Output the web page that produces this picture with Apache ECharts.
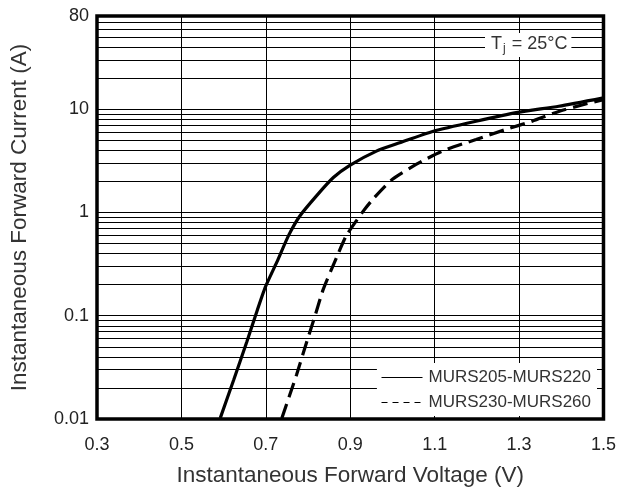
<!DOCTYPE html>
<html>
<head>
<meta charset="utf-8">
<script src="https://cdn.jsdelivr.net/npm/echarts@6/dist/echarts.min.js"></script>
<style>
	html, body { margin: 0; padding: 0; background: #fff; }
	#chart { width: 619px; height: 492px; }
</style>
</head>
<body>
<div id="chart"></div>
<script>
// 数据：正向电压 / 电流
var voltsA = [0.592, 0.624, 0.655, 0.675, 0.699, 0.726, 0.754, 0.781, 0.82, 0.86, 0.899, 0.962, 1.017, 1.097, 1.198, 1.297, 1.394, 1.5];
var ampsA  = [0.0102, 0.024, 0.056, 0.099, 0.19, 0.33, 0.6, 0.93, 1.45, 2.18, 2.86, 3.93, 4.73, 6.13, 7.66, 9.33, 10.7, 12.9];
var voltsB = [0.738, 0.773, 0.797, 0.817, 0.836, 0.868, 0.891, 0.93, 0.954, 1.0, 1.056, 1.118, 1.198, 1.268, 1.331, 1.394, 1.449, 1.5];
var ampsB  = [0.0102, 0.027, 0.056, 0.101, 0.18, 0.37, 0.6, 1.02, 1.35, 2.1, 2.92, 3.93, 5.1, 6.36, 7.66, 9.53, 11.0, 12.4];
var seriesNames = ['MURS205-MURS220', 'MURS230-MURS260'];
var xTicks = [0.3, 0.5, 0.7, 0.9, 1.1, 1.3, 1.5];
var yTicks = [0.01, 0.1, 1, 10, 80];

var fontFamily = "'Liberation Sans', Arial, sans-serif";

function pairs(xs, ys) {
	return xs.map(function(x, i) { return [x, ys[i]]; });
}

// 对数网格的次要线 2..9 每个十进位
var minorLines = [];
[0.01, 0.1, 1, 10].forEach(function(d) {
	for (var k = 2; k <= 9; k++) {
		var v = +(d * k).toPrecision(2);
		if (v < 80) minorLines.push({ yAxis: v });
	}
});

var myChart = echarts.init(document.getElementById('chart'));
var option = {
	animation: false,
	backgroundColor: '#fff',
	title: {
		text: 'T{sub|j} = 25°C',
		left: 485,
		top: 31,
		padding: [2, 4, 2, 6],
		backgroundColor: '#fff',
		textStyle: {
			fontFamily: fontFamily,
			fontSize: 18,
			fontWeight: 'normal',
			color: '#333',
			rich: {
				sub: { fontSize: 12, color: '#333', fontFamily: fontFamily, padding: [10, 1, 0, 1] }
			}
		}
	},
	legend: {
		orient: 'vertical',
		right: 22,
		bottom: 76,
		padding: [6, 6, 5, 4],
		backgroundColor: '#fff',
		itemWidth: 41,
		itemHeight: 14,
		itemGap: 8,
		itemStyle: { opacity: 0, borderWidth: 0 },
		textStyle: { fontFamily: fontFamily, fontSize: 17, color: '#333', padding: [0, 0, 0, 1] },
		data: [
			{ name: seriesNames[0], lineStyle: { width: 1.2, type: 'solid' } },
			{ name: seriesNames[1], lineStyle: { width: 1.2, type: [6, 5] } }
		]
	},
	grid: {
		left: 96,
		right: 14,
		top: 16,
		bottom: 71,
		show: true,
		borderColor: '#000',
		borderWidth: 3.5,
		backgroundColor: 'transparent'
	},
	xAxis: {
		type: 'value',
		min: xTicks[0],
		max: xTicks[xTicks.length - 1],
		interval: 0.2,
		name: 'Instantaneous Forward Voltage (V)',
		nameLocation: 'middle',
		nameGap: 45,
		nameTextStyle: { fontFamily: fontFamily, fontSize: 22.5, color: '#333' },
		axisLine: { show: false },
		axisTick: { show: false },
		axisLabel: {
			margin: 17,
			fontFamily: fontFamily,
			fontSize: 18,
			color: '#222',
			formatter: function(v) { return v.toFixed(1); }
		},
		splitLine: { show: true, lineStyle: { color: '#000', width: 1 } }
	},
	yAxis: {
		type: 'log',
		logBase: 10,
		min: yTicks[0],
		max: yTicks[yTicks.length - 1],
		name: 'Instantaneous Forward Current (A)',
		nameLocation: 'middle',
		nameGap: 66,
		nameTextStyle: { fontFamily: fontFamily, fontSize: 22.5, color: '#333' },
		axisLine: { show: false },
		axisTick: { show: false },
		axisLabel: {
			margin: 8,
			fontFamily: fontFamily,
			fontSize: 18,
			color: '#222',
			formatter: function(v) { return String(+v.toPrecision(2)); }
		},
		splitLine: { show: true, lineStyle: { color: '#000', width: 1 } }
	},
	series: [
		{
			name: seriesNames[0],
			type: 'line',
			data: pairs(voltsA, ampsA),
			showSymbol: false,
			symbol: 'none',
			smooth: 0.2,
			z: 5,
			lineStyle: { color: '#000', width: 3.2, type: 'solid' },
			itemStyle: { color: '#000' },
			markLine: {
				silent: true,
				symbol: ['none', 'none'],
				label: { show: false },
				lineStyle: { color: '#000', width: 1, type: 'solid' },
				emphasis: { disabled: true },
				data: minorLines,
				z: 1
			}
		},
		{
			name: seriesNames[1],
			type: 'line',
			data: pairs(voltsB, ampsB),
			showSymbol: false,
			symbol: 'none',
			smooth: 0.2,
			z: 5,
			lineStyle: { color: '#000', width: 3.2, type: [15, 7] },
			itemStyle: { color: '#000' }
		}
	]
};
myChart.setOption(option);
</script>
</body>
</html>
